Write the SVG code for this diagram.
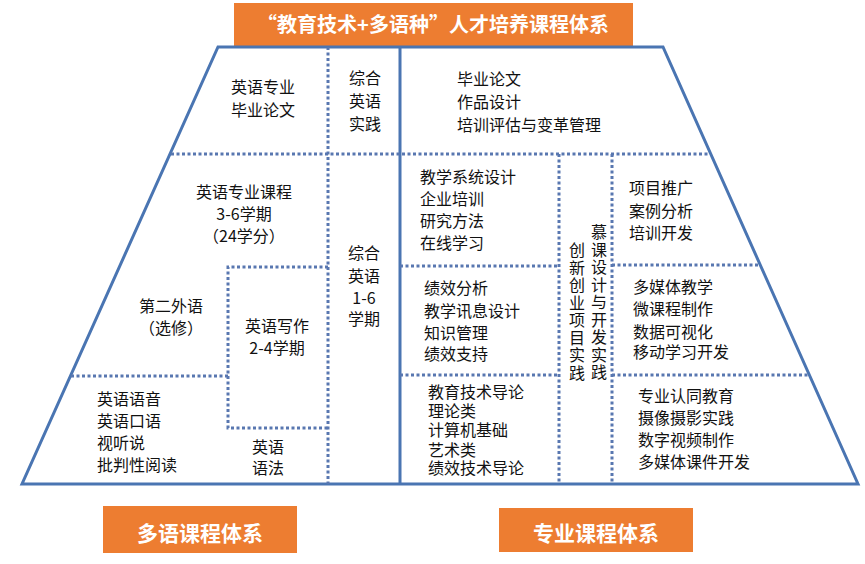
<svg xmlns="http://www.w3.org/2000/svg" width="865" height="564" viewBox="0 0 865 564">
<style>
.frame{fill:none;stroke:#4A75B2;stroke-width:3;stroke-linejoin:miter}
.dot{fill:none;stroke:#5877B0;stroke-width:3;stroke-dasharray:3 2.5}
.t{font-family:"Noto Sans CJK SC","Liberation Sans",sans-serif;font-size:16px;fill:#111}
.c{text-anchor:middle}
.v{writing-mode:vertical-rl;letter-spacing:1.5px}
.banner{fill:#ED7D31}
.bt{font-family:"Noto Sans CJK SC","Liberation Sans",sans-serif;font-weight:bold;fill:#fff;text-anchor:middle}
</style>
<rect width="865" height="564" fill="#fff"/>
<g id="title">
<rect class="banner" x="234" y="3" width="399" height="43"/>
<text class="bt" x="433" y="32" font-size="20">“教育技术+多语种”人才培养课程体系</text>
</g>
<g id="connectors">
<polygon class="frame" points="218,47 663,47 858,484 22,484"/>
<line class="frame" x1="400" y1="47" x2="400" y2="484"/>
<line class="dot" x1="171" y1="154" x2="710" y2="154"/>
<line class="dot" x1="328" y1="47" x2="328" y2="484"/>
<polyline class="dot" points="328,267 228,267 228,428 328,428"/>
<line class="dot" x1="71" y1="376" x2="228" y2="376"/>
<line class="dot" x1="559" y1="154" x2="559" y2="484"/>
<line class="dot" x1="612" y1="154" x2="612" y2="484"/>
<line class="dot" x1="400" y1="266" x2="559" y2="266"/>
<line class="dot" x1="612" y1="265" x2="760" y2="265"/>
<line class="dot" x1="400" y1="375" x2="559" y2="375"/>
<line class="dot" x1="612" y1="375" x2="810" y2="375"/>
</g>
<g id="n-en-thesis"><text class="t c"><tspan x="263" y="93">英语专业</tspan><tspan x="263" y="116">毕业论文</tspan></text></g>
<g id="n-en-practice"><text class="t c"><tspan x="365" y="84">综合</tspan><tspan x="365" y="107">英语</tspan><tspan x="365" y="130">实践</tspan></text></g>
<g id="n-pro-thesis"><text class="t"><tspan x="457" y="85">毕业论文</tspan><tspan x="457" y="108">作品设计</tspan><tspan x="457" y="131">培训评估与变革管理</tspan></text></g>
<g id="n-en-major"><text class="t c"><tspan x="244" y="198">英语专业课程</tspan><tspan x="244" y="220">3-6学期</tspan><tspan x="244" y="242">（24学分）</tspan></text></g>
<g id="n-second-lang"><text class="t c"><tspan x="171" y="312">第二外语</tspan><tspan x="171" y="334">（选修）</tspan></text></g>
<g id="n-writing"><text class="t c"><tspan x="277" y="332">英语写作</tspan><tspan x="277" y="354">2-4学期</tspan></text></g>
<g id="n-en-integrated"><text class="t c"><tspan x="364" y="259">综合</tspan><tspan x="364" y="282">英语</tspan><tspan x="364" y="304">1-6</tspan><tspan x="364" y="325">学期</tspan></text></g>
<g id="n-en-basic"><text class="t"><tspan x="97" y="405">英语语音</tspan><tspan x="97" y="427">英语口语</tspan><tspan x="97" y="449">视听说</tspan><tspan x="97" y="471">批判性阅读</tspan></text></g>
<g id="n-grammar"><text class="t c"><tspan x="268" y="453">英语</tspan><tspan x="268" y="474">语法</tspan></text></g>
<g id="n-isd"><text class="t"><tspan x="420" y="183">教学系统设计</tspan><tspan x="420" y="205">企业培训</tspan><tspan x="420" y="227">研究方法</tspan><tspan x="420" y="249">在线学习</tspan></text></g>
<g id="n-perf"><text class="t"><tspan x="424" y="294">绩效分析</tspan><tspan x="424" y="317">教学讯息设计</tspan><tspan x="424" y="339">知识管理</tspan><tspan x="424" y="360">绩效支持</tspan></text></g>
<g id="n-project"><text class="t"><tspan x="629" y="194">项目推广</tspan><tspan x="629" y="217">案例分析</tspan><tspan x="629" y="239">培训开发</tspan></text></g>
<g id="n-media"><text class="t"><tspan x="633" y="293">多媒体教学</tspan><tspan x="633" y="315">微课程制作</tspan><tspan x="633" y="338">数据可视化</tspan><tspan x="633" y="358">移动学习开发</tspan></text></g>
<g id="n-intro"><text class="t"><tspan x="428" y="398">教育技术导论</tspan><tspan x="428" y="417">理论类</tspan><tspan x="428" y="436">计算机基础</tspan><tspan x="428" y="456">艺术类</tspan><tspan x="428" y="474">绩效技术导论</tspan></text></g>
<g id="n-identity"><text class="t"><tspan x="638" y="402">专业认同教育</tspan><tspan x="638" y="424">摄像摄影实践</tspan><tspan x="638" y="446">数字视频制作</tspan><tspan x="638" y="468">多媒体课件开发</tspan></text></g>
<g id="n-innovation"><text class="t v" x="577" y="242">创新创业项目实践</text></g>
<g id="n-mooc"><text class="t v" x="599" y="224">慕课设计与开发实践</text></g>
<g id="label-multilang"><rect class="banner" x="103" y="506" width="194" height="47"/><text class="bt" x="200" y="541" font-size="21">多语课程体系</text></g>
<g id="label-major"><rect class="banner" x="499" y="508" width="194" height="44"/><text class="bt" x="596" y="541" font-size="21">专业课程体系</text></g>
</svg>
